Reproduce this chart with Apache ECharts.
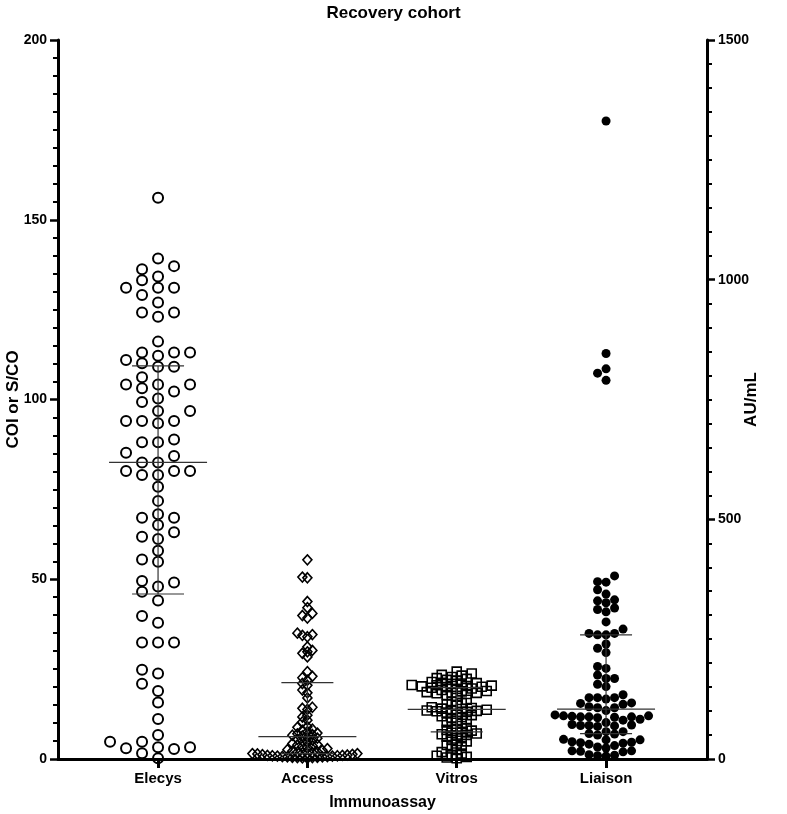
<!DOCTYPE html>
<html><head><meta charset="utf-8">
<script src="https://cdn.jsdelivr.net/npm/echarts@6/dist/echarts.min.js"></script>
<style>html,body{margin:0;padding:0;background:#fff}#c{width:787px;height:814px}</style>
</head><body><div id="c"></div>
<script>
const chartTitle = 'Recovery cohort';
const categories = ['Elecys', 'Access', 'Vitros', 'Liaison'];
const xAxisName = 'Immunoassay';
const leftAxisName = 'COI or S/CO';
const rightAxisName = 'AU/mL';
const leftTicks = [0, 50, 100, 150, 200];
const rightTicks = [0, 500, 1000, 1500];

// Elecys (COI, left axis)
const elecys = [156.1, 139.2, 137.1, 136.2, 134.2, 133.2, 131.1, 131.1, 131.1, 129.1, 127.0, 124.2, 124.2, 123.0,
  116.1, 113.1, 113.1, 113.1, 112.2, 111.0, 110.1, 109.1, 109.1, 106.2, 104.2, 104.2, 104.2, 103.1, 102.2, 100.3,
  99.3, 96.8, 96.8, 94.0, 94.0, 94.0, 93.4, 88.9, 88.1, 88.1, 85.2, 84.3, 82.5, 82.5, 80.1, 80.1, 80.1, 79.0, 79.0,
  75.7, 71.8, 68.1, 67.1, 67.1, 65.1, 63.1, 61.8, 61.2, 57.9, 55.5, 54.9, 49.5, 49.1, 48.0, 46.5, 44.1, 39.8, 37.9,
  32.4, 32.4, 32.4, 24.8, 23.8, 20.9, 18.9, 15.7, 11.1, 6.7, 4.8, 4.8, 3.3, 3.3, 3.0, 2.8, 1.6, 0.2];

// Access (S/CO, left axis)
const access = [55.4, 50.6, 50.4, 43.8, 42.1, 40.5, 39.9, 39.2, 35.0, 34.6, 34.4, 34.0, 31.2, 30.2, 29.8, 29.4,
  28.4, 24.3, 23.0, 22.6, 21.9, 21.0, 20.5, 19.2, 18.4, 17.0, 14.4, 14.1, 13.8, 12.2, 11.7, 10.8, 10.3, 9.0, 8.8,
  8.3, 8.0, 7.6, 7.2, 7.0, 6.8, 6.6, 6.4, 6.0, 5.8, 5.5, 5.3, 5.0, 4.6, 4.3, 4.0, 3.9, 3.7, 3.5, 3.2, 2.9, 2.6,
  2.4, 2.2, 2.0, 1.9, 1.8, 1.7, 1.6, 1.5, 1.5, 1.4, 1.3, 1.2, 1.1, 1.0, 1.0, 0.9, 0.9, 0.8, 0.8, 0.7, 0.7, 0.6,
  0.6, 0.5, 0.5, 0.4, 0.4, 0.3, 0.2];

// Vitros (S/CO, left axis)
const vitros = [24.3, 23.8, 23.4, 23.2, 22.8, 22.5, 22.3, 22.0, 21.7, 21.4, 21.2, 21.1, 21.0, 20.9, 20.6, 20.5,
  20.4, 20.3, 20.2, 20.1, 20.0, 19.8, 19.6, 19.5, 19.2, 18.9, 18.8, 18.6, 18.5, 18.4, 18.3, 18.1, 17.8, 17.6,
  16.5, 15.9, 15.6, 15.2, 14.8, 14.4, 14.2, 14.0, 13.9, 13.7, 13.6, 13.5, 13.4, 13.3, 13.1, 12.9, 12.6, 12.2,
  11.9, 11.7, 11.4, 11.0, 10.6, 10.2, 9.8, 9.0, 8.6, 8.3, 8.1, 7.9, 7.6, 7.3, 7.1, 6.9, 6.7, 6.5, 6.2, 5.8, 5.3,
  4.9, 4.3, 3.9, 3.6, 3.2, 2.5, 1.9, 1.5, 1.2, 0.9, 0.6, 0.4, 0.2];

// Liaison (AU/mL, right axis)
const liaison = [1331, 846, 814, 805, 790, 382, 370, 369, 353, 344, 332, 330, 326, 315, 312, 307, 286, 271, 262,
  262, 259, 259, 240, 231, 222, 193, 189, 175, 168, 168, 156, 151, 134, 128, 128, 128, 125, 117, 116, 114, 109,
  107, 107, 101, 92, 90, 90, 89, 88, 88, 88, 87, 86, 83, 81, 76, 72, 71, 70, 70, 69, 68, 57, 57, 53, 52, 50,
  41, 40, 40, 36, 35, 34, 33, 31, 28, 25, 23, 17, 17, 16, 15, 9, 8, 7, 6];

const FONT = "'Liberation Sans', Arial, Helvetica, sans-serif";

function quant(arr, p) {
  const s = arr.slice().sort((a, b) => a - b);
  const n = s.length;
  let h = (n + 1) * p;
  if (h < 1) h = 1;
  if (h > n) h = n;
  const lo = Math.floor(h), fr = h - lo;
  if (lo >= n) return s[n - 1];
  return s[lo - 1] + fr * (s[lo] - s[lo - 1]);
}
function stats(arr, c) { return [c, quant(arr, 0.25), quant(arr, 0.5), quant(arr, 0.75)]; }

const chart = echarts.init(document.getElementById('c'), null, { renderer: 'canvas' });

const axisColor = '#000';
const labelStyle = { color: '#000', fontFamily: FONT, fontWeight: 'bold', fontSize: 15 };
const tickLabelStyle = { color: '#000', fontFamily: FONT, fontWeight: 'bold', fontSize: 14 };

const statRender = function (params, api) {
  const c = api.value(0);
  const p1 = api.coord([c, api.value(1)]);
  const pm = api.coord([c, api.value(2)]);
  const p3 = api.coord([c, api.value(3)]);
  const style = { stroke: '#333', lineWidth: 1.2 };
  return {
    type: 'group', children: [
      { type: 'line', shape: { x1: pm[0] - 49, y1: pm[1], x2: pm[0] + 49, y2: pm[1] }, style },
      { type: 'line', shape: { x1: p1[0] - 26, y1: p1[1], x2: p1[0] + 26, y2: p1[1] }, style },
      { type: 'line', shape: { x1: p3[0] - 26, y1: p3[1], x2: p3[0] + 26, y2: p3[1] }, style },
      { type: 'line', shape: { x1: pm[0], y1: p1[1], x2: pm[0], y2: p3[1] }, style }
    ]
  };
};

const yAxisCommon = {
  type: 'value',
  nameLocation: 'middle', nameRotate: 90, nameMoveOverlap: false,
  nameTextStyle: { ...labelStyle, fontSize: 17 },
  axisLine: { show: true, onZero: false, lineStyle: { color: axisColor, width: 3 } },
  axisTick: { show: true, inside: false, length: 8, lineStyle: { color: axisColor, width: 2.5 } },
  minorTick: { show: true, splitNumber: 10, length: 5, lineStyle: { color: axisColor, width: 2 } },
  axisLabel: { margin: 11, formatter: v => String(v), ...tickLabelStyle },
  splitLine: { show: false }, minorSplitLine: { show: false }
};

const baseOption = {
  animation: false,
  backgroundColor: '#fff',
  title: {
    text: chartTitle, left: 'center', top: 0,
    textStyle: { fontFamily: FONT, fontWeight: 'bold', fontSize: 17, color: '#000' }
  },
  grid: { left: 58, right: 80, top: 40, bottom: 55, containLabel: false, outerBoundsMode: 'none' },
  xAxis: {
    type: 'value', min: -0.67, max: 3.676,
    name: xAxisName, nameLocation: 'middle', nameGap: 36, nameMoveOverlap: false,
    nameTextStyle: { ...labelStyle, fontSize: 16 },
    axisLine: { show: true, onZero: false, lineStyle: { color: axisColor, width: 3 } },
    axisTick: { show: true, customValues: [0, 1, 2, 3], length: 9, lineStyle: { color: axisColor, width: 3 } },
    axisLabel: { show: true, customValues: [0, 1, 2, 3], formatter: v => categories[Math.round(v)], margin: 12, ...labelStyle },
    splitLine: { show: false }
  },
  yAxis: [
    { ...yAxisCommon, position: 'left', min: leftTicks[0], max: leftTicks[leftTicks.length - 1], interval: 50,
      name: leftAxisName, nameGap: 36 },
    { ...yAxisCommon, position: 'right', min: rightTicks[0], max: rightTicks[rightTicks.length - 1], interval: 500,
      name: rightAxisName, nameGap: 36 }
  ],
  series: []
};

chart.setOption(baseOption);

// beeswarm placement in pixel space, converted back to x-axis units
function swarm(values, cat, yAxisIndex, s, d) {
  const xpx = chart.convertToPixel({ xAxisIndex: 0 }, 1) - chart.convertToPixel({ xAxisIndex: 0 }, 0);
  const order = values.map((v, i) => i).sort((a, b) => values[a] - values[b]);
  const placed = [];
  const out = new Array(values.length);
  order.forEach(i => {
    const py = chart.convertToPixel({ yAxisIndex }, values[i]);
    let k = 0;
    for (let step = 0; step < 200; step++) {
      const cand = step === 0 ? 0 : (step % 2 === 1 ? -Math.ceil(step / 2) : Math.ceil(step / 2));
      const px = cand * s;
      let ok = true;
      for (const p of placed) {
        const dx = px - p[0], dy = py - p[1];
        if (dx * dx + dy * dy < d * d) { ok = false; break; }
      }
      if (ok) { k = px; break; }
    }
    placed.push([k, py]);
    out[i] = [cat + k / xpx, values[i]];
  });
  return out;
}

const elecysPts = swarm(elecys, 0, 0, 16, 10.5);
const accessPts = swarm(access, 1, 0, 5, 5);
const vitrosPts = swarm(vitros, 2, 0, 5, 5.5);
const liaisonPts = swarm(liaison, 3, 1, 8.5, 8);

const openStyle = w => ({ color: 'rgba(0,0,0,0)', borderColor: '#000', borderWidth: w, opacity: 1 });

chart.setOption({
  series: [
    { name: categories[0], type: 'scatter', xAxisIndex: 0, yAxisIndex: 0, data: elecysPts, symbol: 'circle', symbolSize: 10,
      itemStyle: openStyle(2), emphasis: { disabled: true }, silent: true, z: 3 },
    { name: categories[1], type: 'scatter', xAxisIndex: 0, yAxisIndex: 0, data: accessPts, symbol: 'diamond', symbolSize: [9, 10],
      itemStyle: openStyle(1.6), emphasis: { disabled: true }, silent: true, z: 3 },
    { name: categories[2], type: 'scatter', xAxisIndex: 0, yAxisIndex: 0, data: vitrosPts, symbol: 'rect', symbolSize: 9,
      itemStyle: openStyle(1.6), emphasis: { disabled: true }, silent: true, z: 3 },
    { name: categories[3], type: 'scatter', xAxisIndex: 0, yAxisIndex: 1, data: liaisonPts, symbol: 'circle', symbolSize: 9,
      itemStyle: { color: '#000', opacity: 1 }, emphasis: { disabled: true }, silent: true, z: 3 },
    { type: 'custom', xAxisIndex: 0, yAxisIndex: 0, renderItem: statRender, silent: true, z: 4,
      data: [stats(elecys, 0), stats(access, 1), stats(vitros, 2)] },
    { type: 'custom', xAxisIndex: 0, yAxisIndex: 1, renderItem: statRender, silent: true, z: 4,
      data: [stats(liaison, 3)] }
  ]
});
</script>
</body></html>
